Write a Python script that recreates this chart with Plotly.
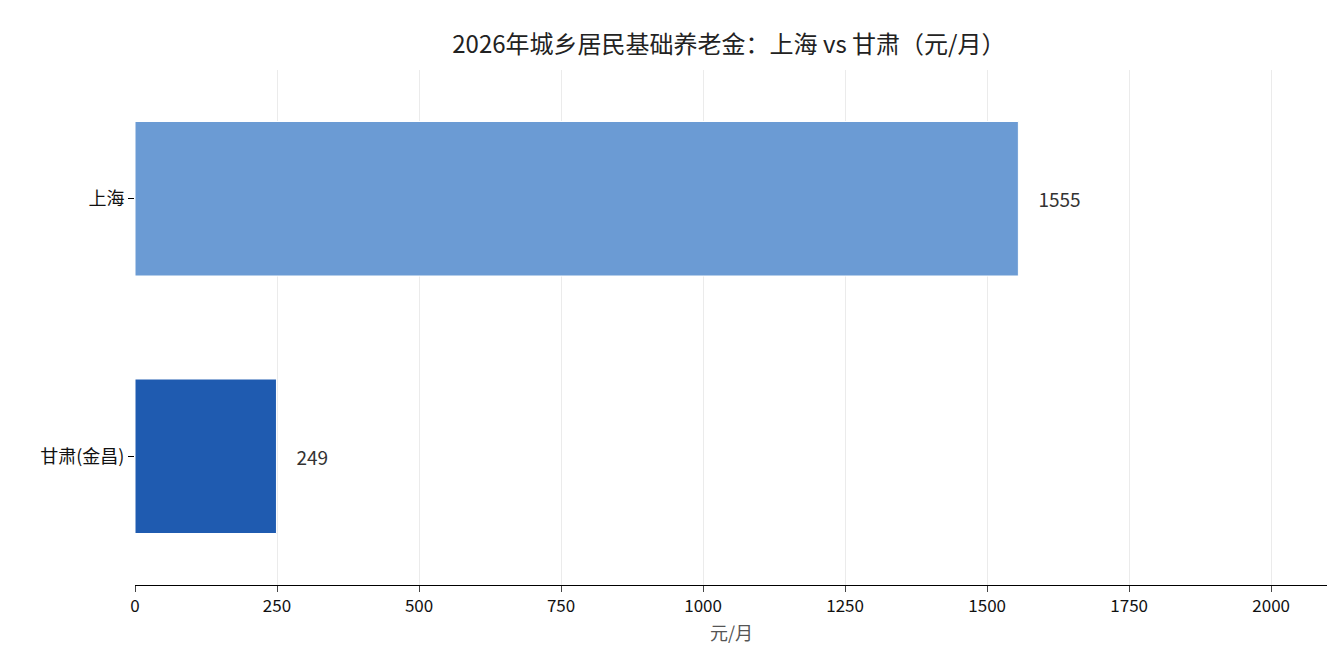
import plotly.graph_objects as go

regions = ["甘肃(金昌)", "上海"]
values = [249, 1555]
colors = ["#1f5bb0", "#6b9bd4"]

fig = go.Figure(go.Bar(
    y=regions, x=values, orientation="h",
    marker=dict(color=colors, line=dict(color="white", width=1)),
    text=[str(v) for v in values], texttemplate="    %{text}", textposition="outside",
    textfont=dict(size=19, color="#333"), width=0.6, cliponaxis=False,
))

fig.update_layout(
    width=1335, height=660,
    font=dict(family="Noto Sans CJK SC", size=17, color="#111"),
    title=dict(text="2026年城乡居民基础养老金：上海 vs 甘肃（元/月）",
               x=0.54, xanchor="center", y=0.957, font=dict(size=24, color="#222")),
    plot_bgcolor="white", paper_bgcolor="white",
    margin=dict(l=127, r=15, t=62, b=83),
    showlegend=False,
    xaxis=dict(range=[0, 2100], tickvals=[0, 250, 500, 750, 1000, 1250, 1500, 1750, 2000],
               showgrid=True, gridcolor="#ebebeb", automargin=False,
               showline=True, linecolor="black", ticks="outside", ticklen=6,
               title=dict(text="元/月", font=dict(size=18, color="#555"), standoff=10),
               zeroline=False),
    yaxis=dict(showline=False, ticks="outside", ticklen=6, tickcolor="black",
               automargin=False, tickfont=dict(size=18)),
)

fig.write_html("out.html")
